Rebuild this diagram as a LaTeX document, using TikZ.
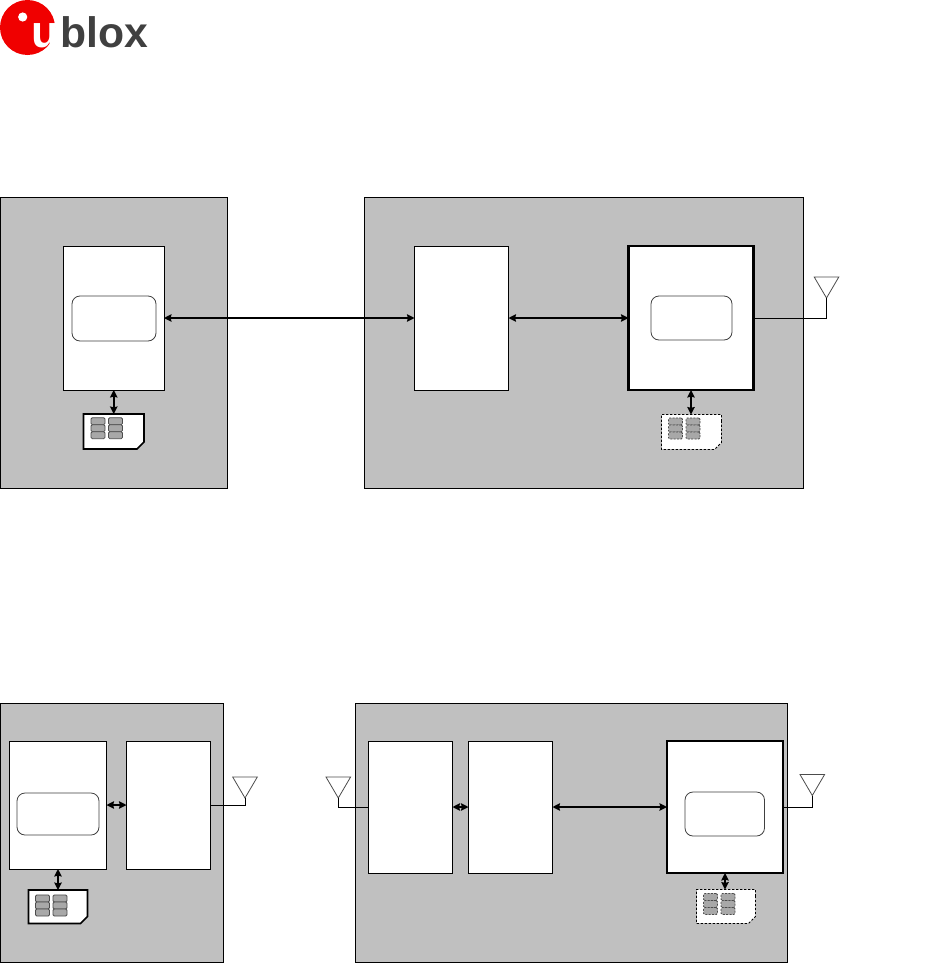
\documentclass[tikz,border=0pt]{standalone}
\usepackage{fontspec}
\setmainfont{Liberation Sans}
\usetikzlibrary{arrows.meta,fit,shapes.misc}
\definecolor{panelgray}{HTML}{C0C0C0}
\definecolor{padgray}{HTML}{A8A8A8}
\definecolor{logored}{HTML}{F00000}
\definecolor{logodark}{HTML}{404040}
\newcommand{\simpads}[4]{%
\foreach \i in {0,1} \foreach \j in {0,1,2}
\node[pad,#4] (#3pad\i\j) at ({#1+17.5*\i},{#2+7*\j}) {};}
\begin{document}
\begin{tikzpicture}[x=0.75pt,y=-0.75pt,line cap=butt,
>={Stealth[length=5.6pt,width=5.6pt,inset=0.6pt]},
panel/.style={draw,fill=panelgray,line width=0.75pt,inner sep=0pt,outer sep=0pt},
block/.style={draw,fill=white,line width=0.75pt,inner sep=0pt,outer sep=0pt},
heavyblock/.style={block,line width=1.6pt},
inner/.style={draw=black!75,fill=white,line width=0.6pt,rounded corners=6pt,inner sep=0pt,outer sep=0pt},
sim/.style={chamfered rectangle,chamfered rectangle corners=south east,chamfered rectangle xsep=2.6pt,chamfered rectangle ysep=2.6pt,fill=white,inner sep=0pt,outer sep=0pt},
solidsim/.style={sim,draw,line width=1.3pt},
dashsim/.style={sim,draw,line width=0.6pt,dash pattern=on 1.8pt off 1.2pt},
pad/.style={draw=black!70,fill=padgray,line width=0.6pt,rounded corners=1pt,minimum width=10.5pt,minimum height=5.3pt,inner sep=0pt,outer sep=0pt},
dashpad/.style={dash pattern=on 1.5pt off 1pt},
bus/.style={<->,line width=1.2pt},
rfline/.style={line width=0.75pt},
antenna/.style={draw=black!70,line width=0.6pt,line join=miter}]
\useasboundingbox (0,0) rectangle (936,967);
% logo
\fill[logored] (27.5,27.5) circle (27.5);
\fill[white] (22.7,17) circle (4.6);
\node[anchor=base west,inner sep=0pt,text=white,font=\fontsize{34}{34}\selectfont\bfseries] (logou) at (31,47) {u};
\node[anchor=base west,inner sep=0pt,text=logodark,font=\fontsize{32}{32}\selectfont\bfseries] (logoblox) at (60,47) {blox};
% upper panels
\node[panel,fit={(0,197) (227.5,488)}] (hostA) {};
\node[panel,fit={(364.5,197) (803.5,488)}] (deviceA) {};
\node[block,fit={(63.5,246) (164,390)}] (cpuA) {};
\node[inner,fit={(72,296) (156,341)}] (cpuAinner) {};
\node[block,fit={(414.5,246) (508.5,390)}] (gatewayA) {};
\node[heavyblock,fit={(628.5,246) (753.5,390)}] (modemA) {};
\node[inner,fit={(651,296) (732,340)}] (modemAinner) {};
\node[solidsim,fit={(87,417.5) (140.5,445.5)}] (simA) {};
\simpads{98}{421.2}{simA}{}
\node[dashsim,fit={(665,418) (718,446)}] (simB) {};
\simpads{675.5}{421.5}{simB}{dashpad}
\draw[bus] (cpuA.east) -- (gatewayA.west);
\draw[bus] (gatewayA.east) -- (modemA.west);
\draw[bus] (cpuA.south) -- (cpuA.south |- simA.north);
\draw[bus] (modemA.south) -- (modemA.south |- simB.north);
\coordinate (antA) at (826.5,298);
\draw[antenna] (antA) -- ++(-12.3,-21) -- ++(24.6,0) -- cycle;
\draw[rfline] (modemA.east) -| (antA);
% lower panels
\node[panel,fit={(0,703) (223,962)}] (hostB) {};
\node[panel,fit={(355.5,703) (787.5,962)}] (deviceB) {};
\node[block,fit={(9.5,741) (106.5,869)}] (cpuB) {};
\node[inner,fit={(17,793) (99,835)}] (cpuBinner) {};
\node[block,fit={(126.5,741) (210.5,869)}] (radioB) {};
\node[block,fit={(368.5,741) (452.5,873)}] (radioC) {};
\node[block,fit={(468.5,741) (552.5,873)}] (gatewayB) {};
\node[heavyblock,fit={(667,741) (783,873)}] (modemB) {};
\node[inner,fit={(685,792) (764.5,836)}] (modemBinner) {};
\node[solidsim,fit={(32,893.5) (84,920)}] (simC) {};
\simpads{42.5}{898.5}{simC}{}
\node[dashsim,fit={(700,893) (752,920)}] (simD) {};
\simpads{710.5}{897}{simD}{dashpad}
\draw[bus] (cpuB.east) -- (radioB.west);
\draw[bus] (radioC.east) -- (gatewayB.west);
\draw[bus] (gatewayB.east) -- (modemB.west);
\draw[bus] (cpuB.south) -- (cpuB.south |- simC.north);
\draw[bus] (modemB.south) -- (modemB.south |- simD.north);
\coordinate (antB) at (245,798);
\draw[antenna] (antB) -- ++(-12.3,-21) -- ++(24.6,0) -- cycle;
\draw[rfline] (radioB.east) -| (antB);
\coordinate (antC) at (338.3,798);
\draw[antenna] (antC) -- ++(-12.3,-21) -- ++(24.6,0) -- cycle;
\draw[rfline] (radioC.west) -| (antC);
\coordinate (antD) at (812.3,795.5);
\draw[antenna] (antD) -- ++(-12.3,-21) -- ++(24.6,0) -- cycle;
\draw[rfline] (modemB.east) -| (antD);
\end{tikzpicture}
\end{document}
